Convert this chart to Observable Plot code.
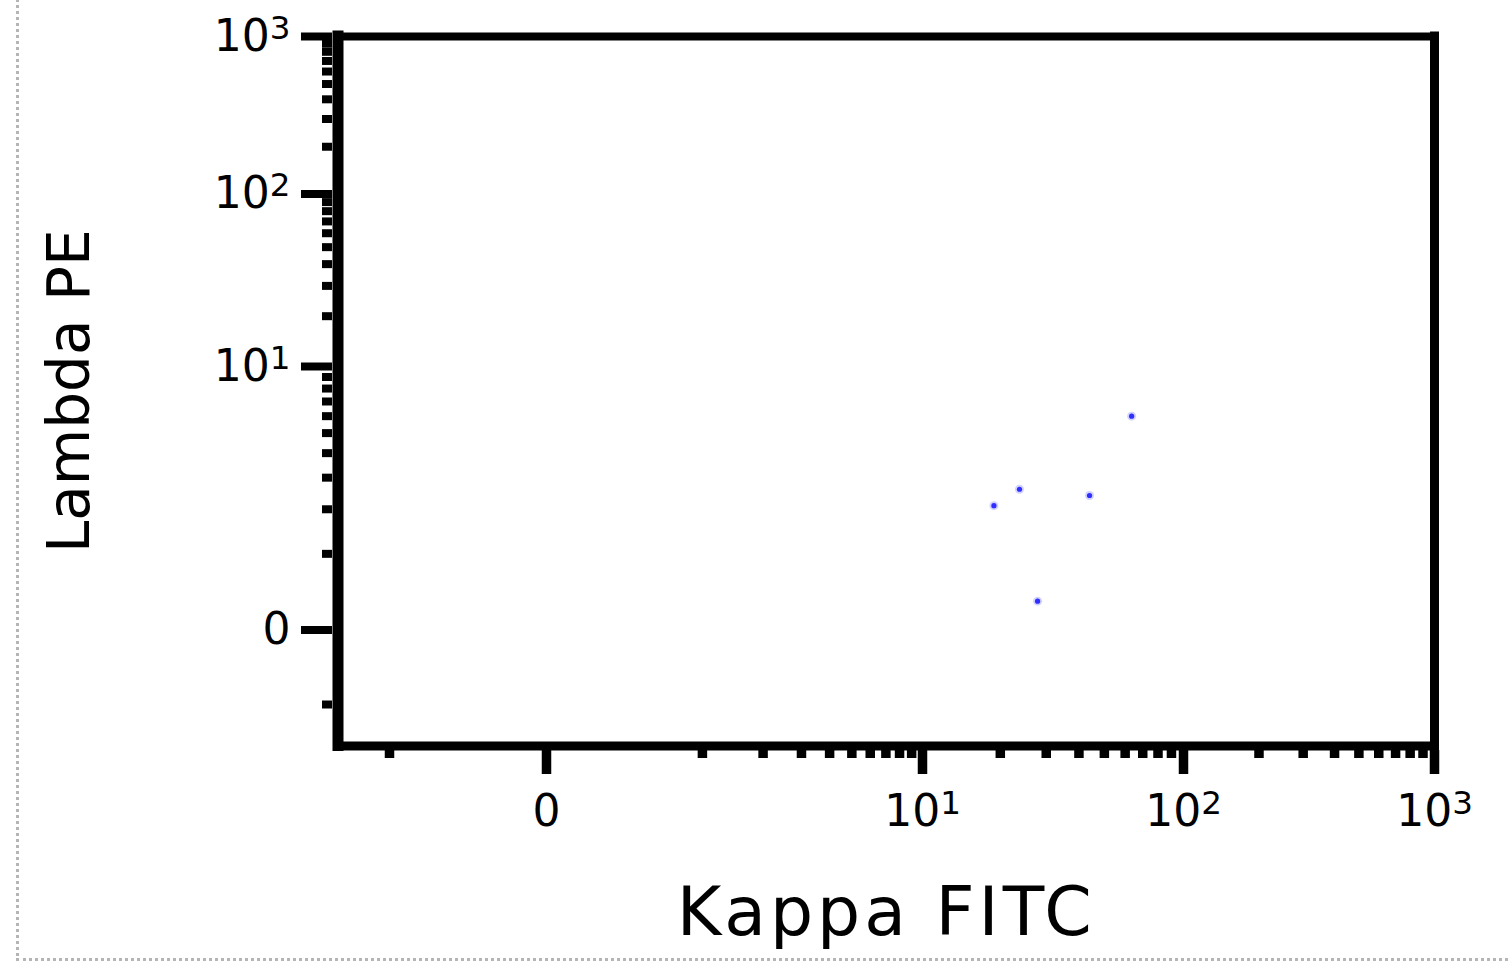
<!DOCTYPE html>
<html><head><meta charset="utf-8">
<script src="https://cdn.jsdelivr.net/npm/d3@7"></script>
<script src="https://cdn.jsdelivr.net/npm/@observablehq/plot@0.6"></script>
<style>
html,body{margin:0;padding:0;background:#fff;overflow:hidden}
#wrap{position:relative;width:1511px;height:964px;overflow:hidden}
#border{position:absolute;left:16px;top:-6px;width:1600px;height:967px;border-left:3px dotted #b5b5b5;border-bottom:3px dotted #b5b5b5;box-sizing:border-box}
#chart{position:absolute;left:0;top:0}
</style></head><body><div id="wrap"><div id="border"></div><div id="chart"></div></div>
<script>
// Events (Kappa FITC vs Lambda PE)
const kappaFITC = [63.5, 23.7, 18.9, 43.9, 27.8];
const lambdaPE  = [6.0, 2.6, 2.1, 2.4, 0.3];
// Axis ticks
const majorTicks  = [0, 10, 100, 1000];
const majorLabels = ["0", "10¹", "10²", "10³"];
const minorTicks  = [-10, 1, 2, 3, 4, 5, 6, 7, 8, 9, 20, 30, 40, 50, 60, 70, 80, 90, 200, 300, 400, 500, 600, 700, 800, 900];
const axisMin = -20, axisMax = 1000;
const xTitle = "Kappa FITC", yTitle = "Lambda PE";

// biexponential-like display transform
const biex = c => v => Math.sign(v) * Math.log10(1 + Math.abs(v) / c);
const fx = biex(0.3), fy = biex(1);
const anchors = [axisMin, -10, 0, 10, 100, 1000];

const pts = kappaFITC.map((k, i) => ({k, l: lambdaPE[i]}));
const font = "DejaVu Sans";

const chart = Plot.plot({
  width: 1511, height: 964,
  marginLeft: 337.5, marginRight: 77, marginTop: 36, marginBottom: 218.5,
  style: {background: "transparent", fontFamily: font},
  x: {axis: null, type: "linear", domain: anchors.map(fx), range: [337.5, 389, 546, 922, 1183, 1434]},
  y: {axis: null, type: "linear", domain: anchors.map(fy), range: [745.5, 704, 629.5, 366, 193.5, 36]},
  marks: [
    // x ticks
    Plot.ruleX(minorTicks, {x: fx, insetTop: 714, insetBottom: -12.5, stroke: "#000", strokeWidth: 9.5}),
    Plot.ruleX(majorTicks, {x: fx, insetTop: 714, insetBottom: -28.5, stroke: "#000", strokeWidth: 9.5}),
    // y ticks
    Plot.ruleY(minorTicks, {y: fy, insetLeft: -15.5, insetRight: 1102, stroke: "#000", strokeWidth: 8}),
    Plot.ruleY(majorTicks, {y: fy, insetLeft: -36.5, insetRight: 1102, stroke: "#000", strokeWidth: 8}),
    // frame
    Plot.ruleY([axisMax], {y: fy, stroke: "#000", strokeWidth: 8, strokeLinecap: "square"}),
    Plot.ruleX([axisMax], {x: fx, stroke: "#000", strokeWidth: 9, strokeLinecap: "square"}),
    Plot.ruleY([axisMin], {y: fy, stroke: "#000", strokeWidth: 9, strokeLinecap: "square"}),
    Plot.ruleX([axisMin], {x: fx, stroke: "#000", strokeWidth: 11, strokeLinecap: "square"}),
    // events
    Plot.dot(pts, {x: d => fx(d.k), y: d => fy(d.l), r: 4.5, fill: "#9c9cff", fillOpacity: 0.45}),
    Plot.dot(pts, {x: d => fx(d.k), y: d => fy(d.l), r: 2.6, fill: "#2f2fff"}),
    // tick labels
    Plot.text(majorTicks, {y: fy, text: (d, i) => majorLabels[i], frameAnchor: "left", dx: -47.5, textAnchor: "end", fontSize: 44, fontFamily: font, fill: "#000"}),
    Plot.text(majorTicks, {x: fx, text: (d, i) => majorLabels[i], frameAnchor: "bottom", dy: 65.5, lineAnchor: "middle", fontSize: 44, fontFamily: font, fill: "#000"}),
    // titles
    Plot.text([xTitle], {frameAnchor: "bottom", dy: 167.5, lineAnchor: "middle", fontSize: 68, fontFamily: font, fill: "#000"}),
    Plot.text([yTitle], {frameAnchor: "left", dx: -267.5, rotate: -90, textAnchor: "middle", lineAnchor: "middle", fontSize: 58, fontFamily: font, fill: "#000"})
  ]
});
// render exponents as real superscript tspans, widen the x title
const sup = {"¹": "1", "²": "2", "³": "3"};
d3.select(chart).selectAll("text").each(function () {
  const t = this.textContent;
  const last = t.slice(-1);
  if (t.length > 1 && sup[last]) {
    const el = d3.select(this);
    el.text(t.slice(0, -1));
    el.append("tspan").attr("dy", "-0.36em").attr("font-size", "0.74em").text(sup[last]);
  } else if (t === xTitle) {
    d3.select(this).style("letter-spacing", "4px");
  }
});
document.getElementById("chart").appendChild(chart);
</script>
</body></html>
